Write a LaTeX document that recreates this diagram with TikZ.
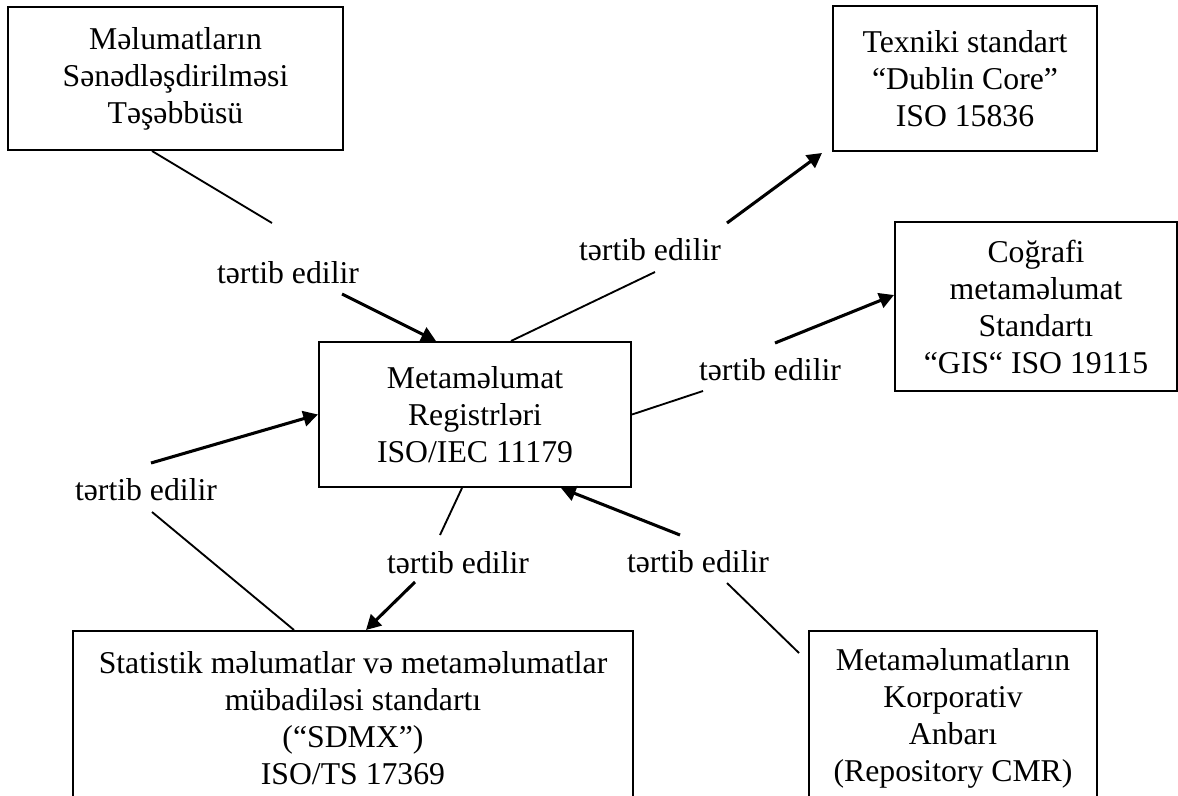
\documentclass[tikz,border=0pt]{standalone}
\usepackage{fontspec}
\setmainfont{Liberation Serif}
\usetikzlibrary{arrows.meta,calc}
\newcommand\diagfont{\fontsize{23.8pt}{27.75pt}\selectfont}
\begin{document}
\begin{tikzpicture}[x=0.75pt,y=-0.75pt,
  box/.style={draw,line width=1.5pt,inner sep=0pt,align=center,font=\diagfont},
  lbl/.style={anchor=base,inner sep=0pt,font=\diagfont},
  link/.style={line width=1.4pt},
  arr/.style={line width=2.3pt,-{Triangle[length=11pt,width=11.5pt]}}]
\useasboundingbox (0,0) rectangle (1178,796);
\clip (0,0) rectangle (1178,796);

% boxes
\node[box,minimum width=0.75pt*335,minimum height=0.75pt*143] (A) at (175.5,78.5)
  {Məlumatların\\Sənədləşdirilməsi\\Təşəbbüsü};
\node[box,minimum width=0.75pt*264,minimum height=0.75pt*145] (B) at (965,78.5)
  {Texniki standart\\“Dublin Core”\\ISO 15836};
\node[box,minimum width=0.75pt*282,minimum height=0.75pt*169] (C) at (1036,306.5)
  {Coğrafi\\metaməlumat\\Standartı\\“GIS“ ISO 19115};
\node[box,minimum width=0.75pt*312,minimum height=0.75pt*145] (M) at (475,414.5)
  {Metaməlumat\\Registrləri\\ISO/IEC 11179};
\node[box,minimum width=0.75pt*560,minimum height=0.75pt*174] (S) at (353,718)
  {Statistik məlumatlar və metaməlumatlar\\mübadiləsi standartı\\(“SDMX”)\\ISO/TS 17369};
\node[box,minimum width=0.75pt*288,minimum height=0.75pt*174] (R) at (953,718)
  {Metaməlumatların\\Korporativ\\Anbarı\\(Repository CMR)};

% labels
\node[lbl] (L1) at (288,283) {tərtib edilir};
\node[lbl] (L2) at (650,260) {tərtib edilir};
\node[lbl] (L3) at (770,380) {tərtib edilir};
\node[lbl] (L4) at (146,500) {tərtib edilir};
\node[lbl] (L5) at (458,573) {tərtib edilir};
\node[lbl] (L6) at (698,572) {tərtib edilir};

% free ends of the connectors beside the labels
\coordinate (f1a) at (272,223); \coordinate (f1b) at (342,294);
\coordinate (f2a) at (655,272); \coordinate (f2b) at (727,223);
\coordinate (f3a) at (703,391); \coordinate (f3b) at (775,343);
\coordinate (f4a) at (151,463); \coordinate (f4b) at (152,512);
\coordinate (f5a) at (440,535); \coordinate (f5b) at (415,582);
\coordinate (f6a) at (727,583); \coordinate (f6b) at (680,535);

% connectors
\draw[link] ($(A.south west)+(145,0)$) -- (f1a);
\draw[arr] (f1b) -- ($(M.north west)+(118,0)$);

\draw[link] ($(M.north west)+(193,0)$) -- (f2a);
\draw[arr] (f2b) -- ($(B.south west)+(-10,1)$);

\draw[link] (M.east) -- (f3a);
\draw[arr] (f3b) -- ($(C.west)+(0,-11.5)$);

\draw[arr] (f4a) -- (M.west);
\draw[link] (f4b) -- ($(S.north west)+(222,0)$);

\draw[link] ($(M.south west)+(144,0)$) -- (f5a);
\draw[arr] (f5b) -- ($(S.north west)+(294,0)$);

\draw[link] ($(R.north west)+(-9,23)$) -- (f6a);
\draw[arr] (f6b) -- ($(M.south west)+(243,0)$);
\end{tikzpicture}
\end{document}
